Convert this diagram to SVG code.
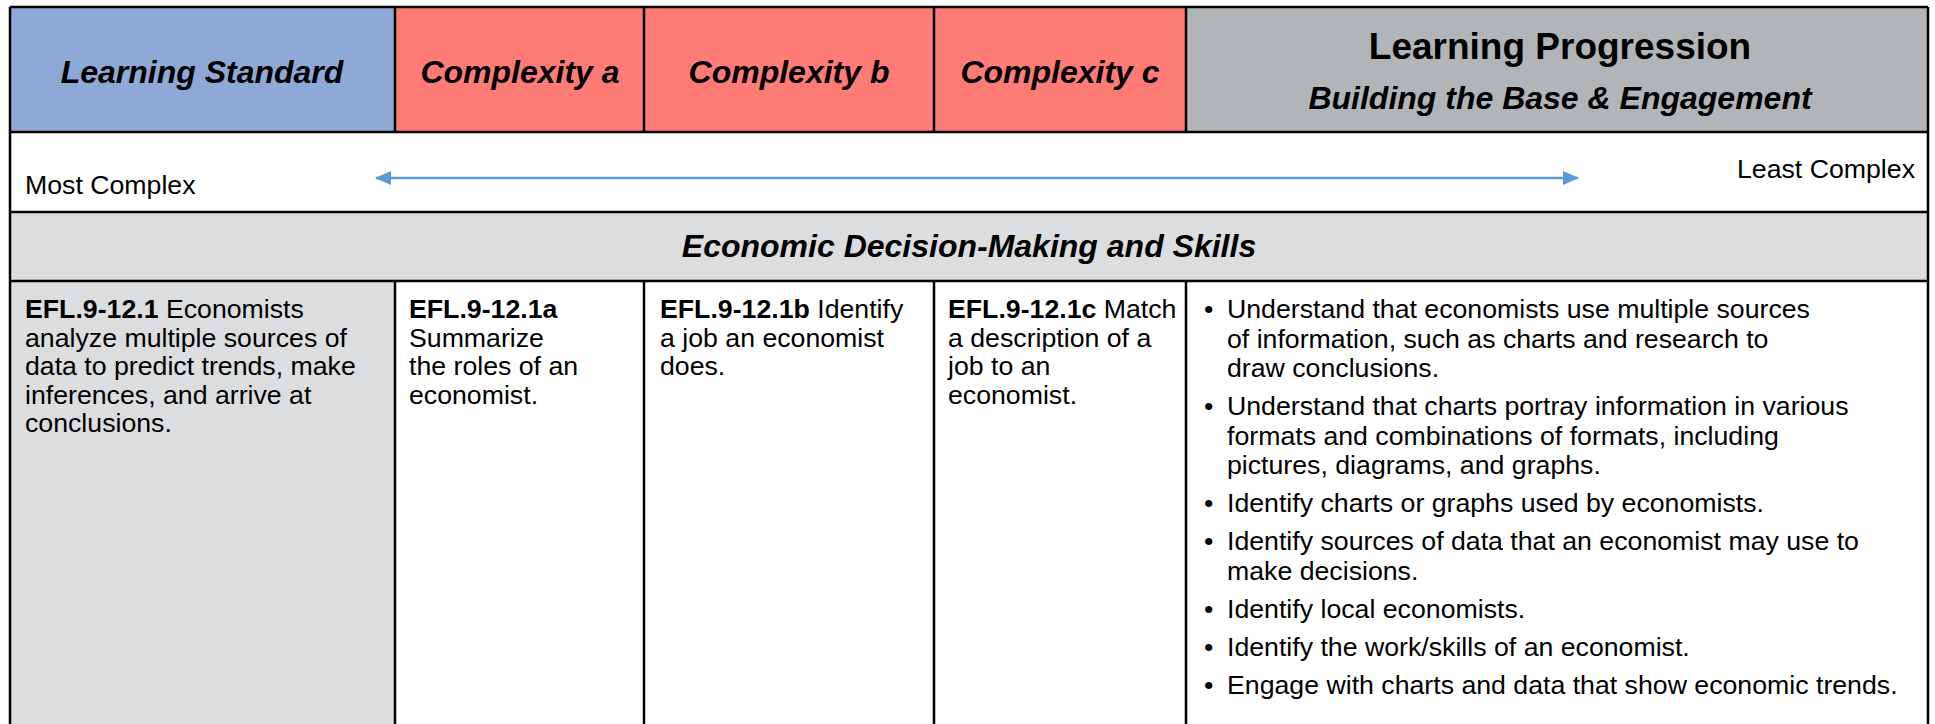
<svg xmlns="http://www.w3.org/2000/svg" width="1935" height="724" viewBox="0 0 1935 724">
<defs>
<style>
.hd{font-family:"Liberation Sans",Arial,sans-serif;font-weight:bold;font-style:italic;font-size:32px;fill:#000;text-anchor:middle}
.hp{font-family:"Liberation Sans",Arial,sans-serif;font-weight:bold;font-size:37px;fill:#000;text-anchor:middle}
.tx{font-family:"Liberation Sans",Arial,sans-serif;font-size:26.7px;fill:#000}
.b{font-weight:bold}
.ln{stroke:#000;stroke-width:2.5;fill:none}
</style>
<marker id="ah" viewBox="0 0 16 14" refX="15" refY="7" markerWidth="16" markerHeight="14" markerUnits="userSpaceOnUse" orient="auto-start-reverse">
<path d="M0,0 L16,7 L0,14 z" fill="#5b9bd5"/>
</marker>
</defs>
<rect x="0" y="0" width="1935" height="724" fill="#fff"/>

<g id="hdr-standard">
<rect x="10" y="7" width="385" height="125" fill="#8ea9d6"/>
<text class="hd" x="202" y="83">Learning Standard</text>
</g>
<g id="hdr-complexity-a">
<rect x="395" y="7" width="249" height="125" fill="#ff7b75"/>
<text class="hd" x="520" y="83">Complexity a</text>
</g>
<g id="hdr-complexity-b">
<rect x="644" y="7" width="290" height="125" fill="#ff7b75"/>
<text class="hd" x="789" y="83">Complexity b</text>
</g>
<g id="hdr-complexity-c">
<rect x="934" y="7" width="252" height="125" fill="#ff7b75"/>
<text class="hd" x="1060" y="83">Complexity c</text>
</g>
<g id="hdr-progression">
<rect x="1186" y="7" width="742" height="125" fill="#b2b5b8"/>
<text class="hp" x="1560" y="59">Learning Progression</text>
<text class="hd" x="1560" y="109">Building the Base &amp; Engagement</text>
</g>

<g id="scale-row">
<text class="tx" x="25" y="194">Most Complex</text>
<text class="tx" x="1915" y="178" text-anchor="end">Least Complex</text>
</g>

<g id="band">
<rect x="10" y="212" width="1918" height="69" fill="#dcdddf"/>
<text class="hd" x="969" y="257">Economic Decision-Making and Skills</text>
</g>

<g id="cell-standard">
<rect x="10" y="281" width="385" height="443" fill="#dcdddf"/>
<text class="tx" x="25" y="318"><tspan class="b">EFL.9-12.1</tspan> Economists</text>
<text class="tx" x="25" y="346.5">analyze multiple sources of</text>
<text class="tx" x="25" y="375">data to predict trends, make</text>
<text class="tx" x="25" y="403.5">inferences, and arrive at</text>
<text class="tx" x="25" y="432">conclusions.</text>
</g>

<g id="cell-a">
<text class="tx b" x="409" y="318">EFL.9-12.1a</text>
<text class="tx" x="409" y="346.5">Summarize</text>
<text class="tx" x="409" y="375">the roles of an</text>
<text class="tx" x="409" y="403.5">economist.</text>
</g>

<g id="cell-b">
<text class="tx" x="660" y="318"><tspan class="b">EFL.9-12.1b</tspan> Identify</text>
<text class="tx" x="660" y="346.5">a job an economist</text>
<text class="tx" x="660" y="375">does.</text>
</g>

<g id="cell-c">
<text class="tx" x="948" y="318"><tspan class="b">EFL.9-12.1c</tspan> Match</text>
<text class="tx" x="948" y="346.5">a description of a</text>
<text class="tx" x="948" y="375">job to an</text>
<text class="tx" x="948" y="403.5">economist.</text>
</g>

<g id="cell-progression">
<text class="tx" x="1204" y="318">•</text>
<text class="tx" x="1227" y="318">Understand that economists use multiple sources</text>
<text class="tx" x="1227" y="348">of information, such as charts and research to</text>
<text class="tx" x="1227" y="377">draw conclusions.</text>
<text class="tx" x="1204" y="415">•</text>
<text class="tx" x="1227" y="415">Understand that charts portray information in various</text>
<text class="tx" x="1227" y="444.5">formats and combinations of formats, including</text>
<text class="tx" x="1227" y="474">pictures, diagrams, and graphs.</text>
<text class="tx" x="1204" y="512">•</text>
<text class="tx" x="1227" y="512">Identify charts or graphs used by economists.</text>
<text class="tx" x="1204" y="550">•</text>
<text class="tx" x="1227" y="550">Identify sources of data that an economist may use to</text>
<text class="tx" x="1227" y="579.5">make decisions.</text>
<text class="tx" x="1204" y="617.5">•</text>
<text class="tx" x="1227" y="617.5">Identify local economists.</text>
<text class="tx" x="1204" y="655.5">•</text>
<text class="tx" x="1227" y="655.5">Identify the work/skills of an economist.</text>
<text class="tx" x="1204" y="693.5">•</text>
<text class="tx" x="1227" y="693.5">Engage with charts and data that show economic trends.</text>
</g>

<g id="grid">
<path class="ln" d="M10,7 H1928 M10,132 H1928 M10,212 H1928 M10,281 H1928"/>
<path class="ln" d="M10,7 V724 M1928,7 V724"/>
<path class="ln" d="M395,7 V132 M644,7 V132 M934,7 V132 M1186,7 V132"/>
<path class="ln" d="M395,281 V724 M644,281 V724 M934,281 V724 M1186,281 V724"/>
</g>

<g id="connectors">
<line x1="376" y1="178" x2="1578" y2="178" stroke="#5b9bd5" stroke-width="2.5" marker-start="url(#ah)" marker-end="url(#ah)"/>
</g>
</svg>
